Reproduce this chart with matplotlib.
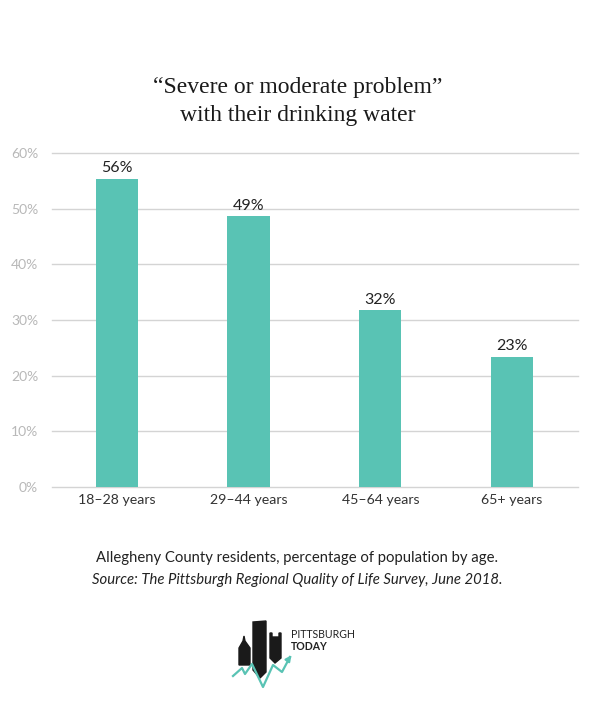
import matplotlib.pyplot as plt
from matplotlib.patches import Polygon

# data
age_groups = ['18–28 years', '29–44 years', '45–64 years', '65+ years']
shares = [55.4, 48.6, 31.8, 23.4]
share_labels = ['56%', '49%', '32%', '23%']
yticks = [0, 10, 20, 30, 40, 50, 60]

bar_color = '#59c3b4'
W, H = 595, 718

fig = plt.figure(figsize=(W / 100, H / 100), dpi=100)

# main chart, placed in pixel units
left, right, top, bottom = 52, 578, 153, 487
ax = fig.add_axes([left / W, 1 - bottom / H, (right - left) / W, (bottom - top) / H])
x = range(len(age_groups))
ax.bar(x, shares, width=0.32, color=bar_color, zorder=3)
for xi, v, lab in zip(x, shares, share_labels):
    ax.text(xi, v + 0.6, lab, ha='center', va='bottom', fontsize=11.5,
            family='Lato', color='#222222')

ax.set_xlim(-0.49, 3.5)
ax.set_ylim(0, 60)
ax.set_yticks(yticks)
ax.set_yticklabels([f'{t}%' for t in yticks], family='Lato', fontsize=10, color='#b8b8b8')
ax.set_xticks(list(x))
ax.set_xticklabels(age_groups, family='Lato', fontsize=10.2, color='#333333')
ax.tick_params(axis='both', length=0)
ax.tick_params(axis='y', pad=10)
ax.tick_params(axis='x', pad=5)
ax.grid(axis='y', color='#d4d4d4', linewidth=1, zorder=0)
for gl in ax.get_ygridlines():
    gl.set_clip_on(False)
for s in ax.spines.values():
    s.set_visible(False)

# title
fig.text(0.5, 1 - 88 / H, '“Severe or moderate problem”', ha='center', va='center',
         family='Liberation Serif', fontsize=17, color='#1a1a1a')
fig.text(0.5, 1 - 115 / H, 'with their drinking water', ha='center', va='center',
         family='Liberation Serif', fontsize=17, color='#1a1a1a')

# caption
fig.text(0.5, 1 - 558 / H, 'Allegheny County residents, percentage of population by age.',
         ha='center', va='center', family='Lato', fontsize=10.7, color='#222222')
fig.text(0.5, 1 - 580 / H, 'Source: The Pittsburgh Regional Quality of Life Survey, June 2018.',
         ha='center', va='center', family='Lato', style='italic', fontsize=10.7, color='#222222')

# logo
lg = fig.add_axes([0, 0, 1, 1], zorder=-1)
lg.set_xlim(0, W)
lg.set_ylim(H, 0)
lg.axis('off')
lg.add_patch(Polygon([(239, 648), (243, 641), (244, 636), (245, 641), (250, 648), (250, 665),
                      (239, 665)], color='#1a1a1a'))
lg.add_patch(Polygon([(253, 622), (266, 621), (266, 672), (260, 678), (253, 670)], color='#1a1a1a'))
lg.add_patch(Polygon([(270, 633), (272, 633), (272, 637), (279, 637), (279, 633), (281, 633),
                      (281, 658), (275, 663), (270, 658)], color='#1a1a1a'))
zx = [233, 242, 245, 252, 263, 273, 282, 290]
zy = [676, 668, 674, 664, 687, 665, 672, 657]
lg.plot(zx, zy, color=bar_color, linewidth=1.6)
lg.annotate('', xy=(293, 653), xytext=(288, 660),
            arrowprops=dict(arrowstyle='-|>', color=bar_color, lw=1.6, mutation_scale=8))
lg.text(291, 635, 'PITTSBURGH', family='Lato', fontsize=7.6, color='#222222', va='center')
lg.text(291, 647, 'TODAY', family='Lato', fontsize=7.6, weight='bold', color='#222222', va='center')

fig.savefig('out.png', dpi=100, facecolor='white')
